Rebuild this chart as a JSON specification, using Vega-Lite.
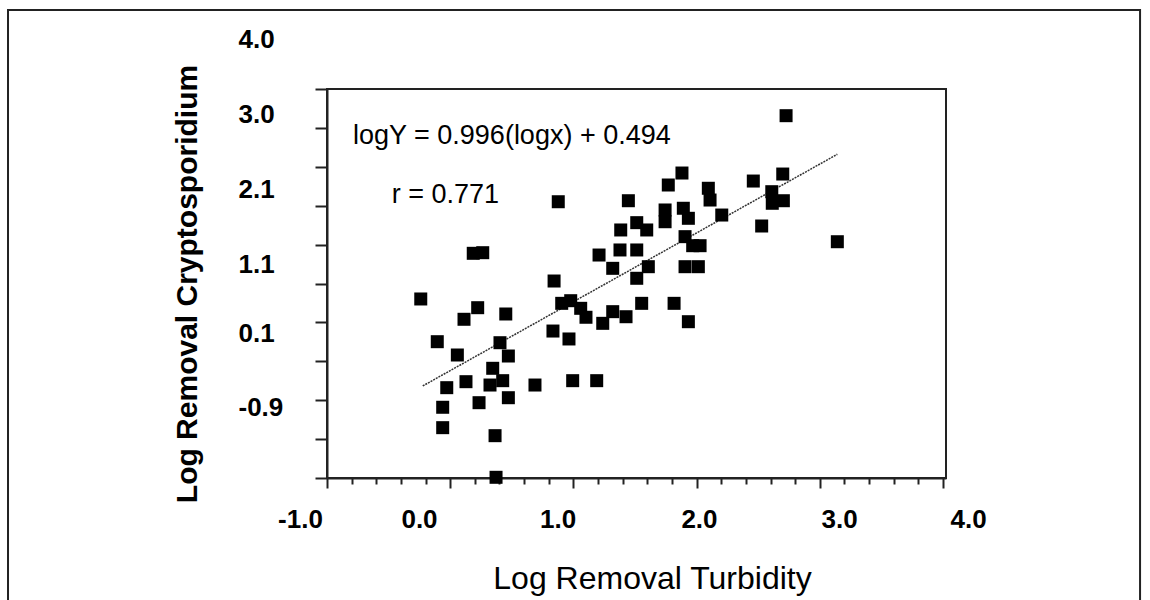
{
  "$schema": "https://vega.github.io/schema/vega-lite/v6.json",
  "width": 619,
  "height": 389,
  "autosize": {"type": "none"},
  "padding": {"left": 327, "top": 89, "right": 204, "bottom": 122},
  "background": "white",
  "config": {
    "view": {"stroke": "#222", "strokeWidth": 2},
    "axis": {"grid": false, "domainColor": "#222", "domainWidth": 2, "tickColor": "#222", "tickWidth": 2, "labelColor": "#000", "titleColor": "#000", "labelOverlap": false, "labelFlush": false, "labelBound": false}
  },
  "resolve": {"axis": {"x": "independent", "y": "independent"}},
  "datasets": {
    "points": [
      {"x": 0.187, "y": 1.888}, {"x": 0.264, "y": 1.896}, {"x": -0.239, "y": 1.301}, {"x": 0.223, "y": 1.189},
      {"x": 0.112, "y": 1.040}, {"x": 0.451, "y": 1.108}, {"x": -0.105, "y": 0.752}, {"x": 0.058, "y": 0.581},
      {"x": 0.404, "y": 0.739}, {"x": 0.472, "y": 0.568}, {"x": 0.345, "y": 0.410}, {"x": 0.128, "y": 0.238},
      {"x": -0.028, "y": 0.161}, {"x": 0.323, "y": 0.195}, {"x": 0.426, "y": 0.251}, {"x": 0.688, "y": 0.195},
      {"x": 0.994, "y": 0.251}, {"x": 1.189, "y": 0.251}, {"x": 0.234, "y": -0.032}, {"x": 0.472, "y": 0.032},
      {"x": -0.061, "y": -0.091}, {"x": -0.061, "y": -0.353}, {"x": 0.364, "y": -0.456}, {"x": 0.372, "y": -0.991},
      {"x": 0.843, "y": 1.532}, {"x": 0.834, "y": 0.889}, {"x": 0.964, "y": 0.787}, {"x": 0.905, "y": 1.245},
      {"x": 0.978, "y": 1.279}, {"x": 1.059, "y": 1.181}, {"x": 1.102, "y": 1.066}, {"x": 1.238, "y": 0.988},
      {"x": 1.319, "y": 1.138}, {"x": 1.427, "y": 1.073}, {"x": 1.554, "y": 1.245}, {"x": 1.817, "y": 1.245},
      {"x": 1.933, "y": 1.009}, {"x": 1.208, "y": 1.866}, {"x": 1.319, "y": 1.695}, {"x": 1.378, "y": 1.931},
      {"x": 1.514, "y": 1.931}, {"x": 1.384, "y": 2.188}, {"x": 1.595, "y": 2.188}, {"x": 1.514, "y": 2.282},
      {"x": 1.514, "y": 1.567}, {"x": 1.608, "y": 1.716}, {"x": 1.906, "y": 1.716}, {"x": 2.014, "y": 1.716},
      {"x": 1.968, "y": 1.986}, {"x": 2.028, "y": 1.986}, {"x": 1.906, "y": 2.102}, {"x": 1.744, "y": 2.445},
      {"x": 1.892, "y": 2.467}, {"x": 1.744, "y": 2.294}, {"x": 1.933, "y": 2.338}, {"x": 1.446, "y": 2.564},
      {"x": 1.770, "y": 2.766}, {"x": 1.881, "y": 2.920}, {"x": 0.877, "y": 2.551}, {"x": 2.204, "y": 2.380},
      {"x": 2.095, "y": 2.724}, {"x": 2.109, "y": 2.573}, {"x": 2.460, "y": 2.817}, {"x": 2.699, "y": 2.907},
      {"x": 2.610, "y": 2.680}, {"x": 2.614, "y": 2.531}, {"x": 2.704, "y": 2.564}, {"x": 2.528, "y": 2.239},
      {"x": 3.142, "y": 2.037}, {"x": 2.726, "y": 3.657}
    ],
    "fit": [
      {"x": -0.223, "y": 0.183},
      {"x": 3.142, "y": 3.161}
    ],
    "one": [{}]
  },
  "layer": [
    {
      "data": {"name": "one"},
      "mark": {"type": "rect", "fill": "transparent", "stroke": "#222", "strokeWidth": 2, "clip": false},
      "encoding": {
        "x": {"datum": -3.589, "type": "quantitative", "axis": null},
        "x2": {"datum": 5.599},
        "y": {"datum": 5.015, "type": "quantitative", "axis": null},
        "y2": {"datum": -2.75}
      }
    },
    {
      "data": {"name": "fit"},
      "mark": {"type": "line", "color": "#333", "strokeWidth": 1.5, "strokeDash": [2, 1]},
      "encoding": {
        "x": {
          "field": "x", "type": "quantitative",
          "axis": {
            "orient": "bottom", "title": null, "domain": false, "labels": false,
            "values": [-0.8, -0.6, -0.4, -0.2, 0.2, 0.4, 0.6, 0.8, 1.2, 1.4, 1.6, 1.8, 2.2, 2.4, 2.6, 2.8, 3.2, 3.4, 3.6, 3.8],
            "tickSize": 6
          }
        },
        "y": {"field": "y", "type": "quantitative", "axis": null}
      }
    },
    {
      "data": {"name": "points"},
      "mark": {"type": "point", "shape": "square", "filled": true, "size": 169, "color": "#000", "opacity": 1},
      "encoding": {
        "x": {
          "field": "x", "type": "quantitative",
          "scale": {"domain": [-1, 4.024], "nice": false, "zero": false},
          "axis": {
            "orient": "bottom", "title": null, "labels": false,
            "values": [-1, 0, 1, 2, 3, 4],
            "tickSize": 10
          }
        },
        "y": {
          "field": "y", "type": "quantitative",
          "scale": {"domain": [-1, 4], "nice": false, "zero": false},
          "axis": {
            "orient": "left", "title": null, "labels": false,
            "values": [-1, -0.5, 0, 0.5, 1, 1.5, 2, 2.5, 3, 3.5, 4],
            "tickSize": 12
          }
        }
      }
    },
    {
      "data": {"name": "one"},
      "mark": {"type": "text", "align": "left", "baseline": "alphabetic", "font": "Liberation Sans", "fontSize": 27, "color": "#000"},
      "encoding": {
        "x": {
          "datum": -0.789, "type": "quantitative",
          "axis": {
            "orient": "bottom", "title": null, "domain": false, "ticks": false, "tickSize": 0,
            "values": [-0.732, 0.2338, 1.358],
            "labelExpr": "datum.value < -0.5 ? '-1.0' : datum.value < 0.8 ? '0.0' : '1.0'",
            "labelOffset": -60, "labelPadding": 28, "labelBaseline": "top",
            "labelFont": "Liberation Sans", "labelFontWeight": "bold", "labelFontSize": 26
          }
        },
        "y": {
          "datum": 3.293, "type": "quantitative",
          "axis": {
            "orient": "left", "title": "Log Removal Cryptosporidium", "domain": false, "ticks": false, "tickSize": 0,
            "values": [3.859, 2.895, 1.931, 0.979, 0.080, -0.871],
            "labelExpr": "datum.value > 3.5 ? '4.0' : datum.value > 2.5 ? '3.0' : datum.value > 1.5 ? '2.1' : datum.value > 0.5 ? '1.1' : datum.value > -0.5 ? '0.1' : '-0.9'",
            "labelOffset": -60, "labelPadding": 89, "labelAlign": "left", "labelBaseline": "middle",
            "labelFont": "Liberation Sans", "labelFontWeight": "bold", "labelFontSize": 26,
            "titleFont": "Liberation Sans", "titleFontWeight": "bold", "titleFontSize": 30, "titlePadding": 36
          }
        },
        "text": {"value": "logY = 0.996(logx) + 0.494"}
      }
    },
    {
      "data": {"name": "one"},
      "mark": {"type": "text", "align": "left", "baseline": "alphabetic", "font": "Liberation Sans", "fontSize": 27, "color": "#000"},
      "encoding": {
        "x": {
          "datum": -0.475, "type": "quantitative",
          "axis": {
            "orient": "bottom", "title": "Log Removal Turbidity", "domain": false, "ticks": false, "tickSize": 0,
            "values": [1.532, 2.669, 3.716],
            "labelExpr": "datum.value < 2 ? '2.0' : datum.value < 3.2 ? '3.0' : '4.0'",
            "labelOffset": 60, "labelPadding": 28, "labelBaseline": "top",
            "labelFont": "Liberation Sans", "labelFontWeight": "bold", "labelFontSize": 26,
            "titleFont": "Liberation Sans", "titleFontWeight": "normal", "titleFontSize": 32, "titlePadding": 31, "titleX": 325
          }
        },
        "y": {"datum": 2.535, "type": "quantitative", "axis": null},
        "text": {"value": "r = 0.771"}
      }
    }
  ]
}
